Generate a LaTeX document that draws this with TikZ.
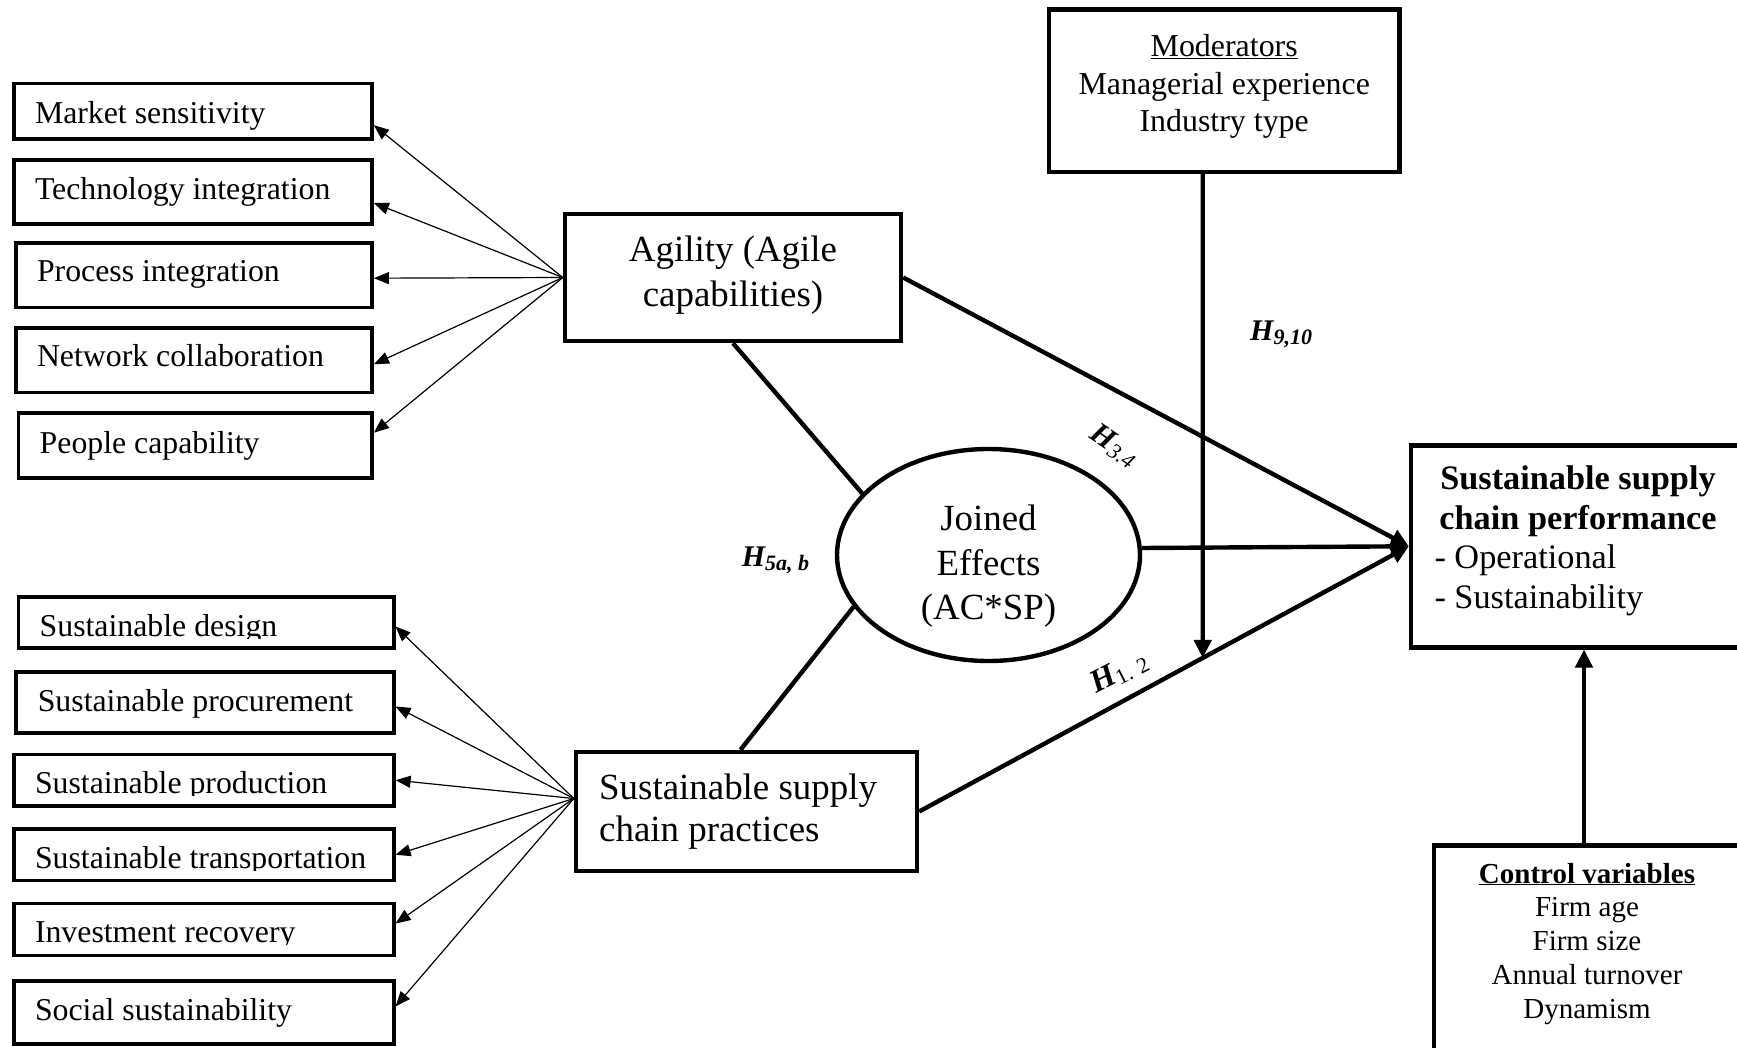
\documentclass[tikz,border=0pt]{standalone}
\usepackage{fontspec}
\setmainfont{Liberation Serif}
\usetikzlibrary{arrows.meta,shapes.geometric}

\tikzset{
  itembox/.style={draw, line width=3.8pt, rectangle, inner sep=0pt},
  mainbox/.style={draw, line width=4.4pt, rectangle, inner sep=0pt},
  itemtext/.style={inner sep=0pt, anchor=base west, font=\fontsize{31.8}{38}\selectfont},
  maintext/.style={inner sep=0pt, font=\fontsize{36.9}{44.3}\selectfont},
  feeder/.style={line width=1.2pt, -{Triangle[length=15pt,width=12pt]}},
  link/.style={line width=4.4pt},
  effect/.style={line width=4.4pt, -{Triangle[length=18pt,width=17pt]}},
  hyp/.style={inner sep=0pt, font=\fontsize{30}{30}\selectfont\bfseries\itshape},
}
\newcommand\hsub[1]{\raisebox{-3.5pt}{\fontsize{22}{22}\selectfont #1}}

\begin{document}
\begin{tikzpicture}[x=1pt,y=-1pt]
\useasboundingbox (0,0) rectangle (1737,1048);
\clip (0,0) rectangle (1737,1048);

% ---- agility indicators ----
\node[itembox, minimum width=358.3pt, minimum height=55.5pt] (ms) at (192.8,111.2) {};
\node[itembox, minimum width=358.3pt, minimum height=64pt]   (ti) at (192.8,192) {};
\node[itembox, minimum width=356pt,   minimum height=64.7pt] (pi) at (194,275.2) {};
\node[itembox, minimum width=356pt,   minimum height=64.7pt] (nc) at (194,360.2) {};
\node[itembox, minimum width=353.6pt, minimum height=65.4pt] (pc) at (195.2,445.5) {};
\node[itemtext] (msT) at (34.8,123.3) {Market sensitivity};
\node[itemtext] (tiT) at (34.8,200) {Technology integration};
\node[itemtext] (piT) at (36.8,281.7) {Process integration};
\node[itemtext] (ncT) at (36.8,366.7) {Network collaboration};
\node[itemtext] (pcT) at (39.5,453.3) {People capability};

% ---- practice indicators ----
\node[itembox, minimum width=375.2pt, minimum height=51.4pt] (sd)  at (206,622.5) {};
\node[itembox, minimum width=377.6pt, minimum height=61.4pt] (sp)  at (204.8,702.5) {};
\node[itembox, minimum width=380pt,   minimum height=51.5pt] (spn) at (203.7,780.2) {};
\node[itembox, minimum width=380pt,   minimum height=51.5pt] (st)  at (203.7,854.8) {};
\node[itembox, minimum width=380pt,   minimum height=52pt]   (ir)  at (203.7,929.5) {};
\node[itembox, minimum width=380pt,   minimum height=63.2pt] (so)  at (203.7,1012.4) {};
\begin{scope}
  \clip (0,590) rectangle (400,638.3);
  \node[itemtext] (sdT) at (39.5,636.7) {Sustainable design};
\end{scope}
\node[itemtext] (spT) at (37.6,711.7) {Sustainable procurement};
\begin{scope}
  \clip (0,750) rectangle (400,795);
  \node[itemtext] (spnT) at (34.8,793.3) {Sustainable production};
\end{scope}
\begin{scope}
  \clip (0,825) rectangle (400,870);
  \node[itemtext] (stT) at (34.8,868.3) {Sustainable transportation};
\end{scope}
\begin{scope}
  \clip (0,900) rectangle (400,944.3);
  \node[itemtext] (irT) at (34.8,942.7) {Investment recovery};
\end{scope}
\node[itemtext] (soT) at (34.8,1020) {Social sustainability};

% ---- main constructs (multi-line text anchored at the last baseline) ----
\node[mainbox, minimum width=336pt, minimum height=127pt] (ag) at (733,277.5) {};
\node[maintext, align=center, anchor=base] (agT) at (733,306.3) {Agility (Agile\\capabilities)};

\node[mainbox, minimum width=341pt, minimum height=119pt] (sscp) at (746.5,811.5) {};
\node[maintext, align=left, anchor=base west, font=\fontsize{36.9}{42}\selectfont] (sscpT) at (599,841) {Sustainable supply\\chain practices};

\node[ellipse, draw, line width=4.4pt, minimum width=303pt, minimum height=212pt, inner sep=0pt] (je) at (988.5,555) {};
\node[maintext, align=center, anchor=base] (jeT) at (988.5,619.3) {Joined\\Effects\\(AC*SP)};

\node[mainbox, minimum width=350.5pt, minimum height=162.5pt] (mod) at (1224.2,90.8) {};
\node[inner sep=0pt, align=center, anchor=base, font=\fontsize{31.9}{37.5}\selectfont] (modT) at (1224.2,131.8)
  {\underline{Moderators}\\Managerial experience\\Industry type};

\node[mainbox, minimum width=334pt, minimum height=202pt] (perf) at (1578,546.3) {};
\node[inner sep=0pt, align=center, anchor=base, font=\fontsize{34.3}{39.5}\selectfont\bfseries] (perfT) at (1578,529)
  {Sustainable supply\\chain performance};
\node[inner sep=0pt, align=left, anchor=base west, font=\fontsize{34.3}{39.5}\selectfont] (perfL) at (1434.3,608)
  {- Operational\\- Sustainability};

\node[mainbox, minimum width=306pt, minimum height=214.5pt] (ctrl) at (1587,952.7) {};
\node[inner sep=0pt, align=center, anchor=base, font=\fontsize{29}{33.8}\selectfont] (ctrlT) at (1587,1018.2)
  {\underline{\textbf{Control variables}}\\Firm age\\Firm size\\Annual turnover\\Dynamism};

% ---- indicator arrows ----
\draw[feeder] (ag.west) -- ([yshift=-14pt]ms.east);
\draw[feeder] (ag.west) -- ([yshift=-11pt]ti.east);
\draw[feeder] (ag.west) -- ([yshift=-3pt]pi.east);
\draw[feeder] (ag.west) -- ([yshift=-4pt]nc.east);
\draw[feeder] (ag.west) -- ([yshift=12.8pt]pc.east);

\coordinate (sfan) at ([yshift=13pt]sscp.west);
\draw[feeder] (sfan) -- ([yshift=-4pt]sd.east);
\draw[feeder] (sfan) -- ([yshift=-4pt]sp.east);
\draw[feeder] (sfan) -- (spn.east);
\draw[feeder] (sfan) -- (st.east);
\draw[feeder] (sfan) -- ([yshift=6pt]ir.east);
\draw[feeder] (sfan) -- ([yshift=6pt]so.east);

% ---- structural paths ----
\draw[link] (ag.south) -- (je.154);
\draw[link] ([xshift=-6pt]sscp.north) -- (je.201);

\draw[effect] (ag.east) -- (perf.west);
\draw[effect] ([yshift=7pt]je.east) -- (perf.west);
\draw[effect] (sscp.east) -- (perf.west);

\coordinate (mtop) at ([xshift=-21.5pt]mod.south);
\coordinate (mlow) at ([xshift=-21.5pt,yshift=-600pt]mod.south);
\coordinate (mfoot) at (intersection of mtop--mlow and sscp.east--perf.west);
\draw[effect] (mtop) -- (mfoot);

\coordinate (cup) at ([xshift=-3pt]ctrl.north);
\draw[effect] (cup) -- (cup |- perf.south);

% ---- hypothesis labels ----
\node[hyp, anchor=base west] (h910) at (1250,340.7) {H\hsub{9,10}};
\node[hyp, anchor=base west] (h5) at (741.7,566.7) {H\hsub{5a, b}};
\node[hyp, rotate=-35] (h34) at (1114,446) {H\hsub{\mdseries 3.4}};
\node[hyp, rotate=27, font=\fontsize{32}{32}\selectfont\bfseries\itshape] (h12) at (1119,672) {H\hsub{\mdseries\upshape 1. 2}};

\end{tikzpicture}
\end{document}
